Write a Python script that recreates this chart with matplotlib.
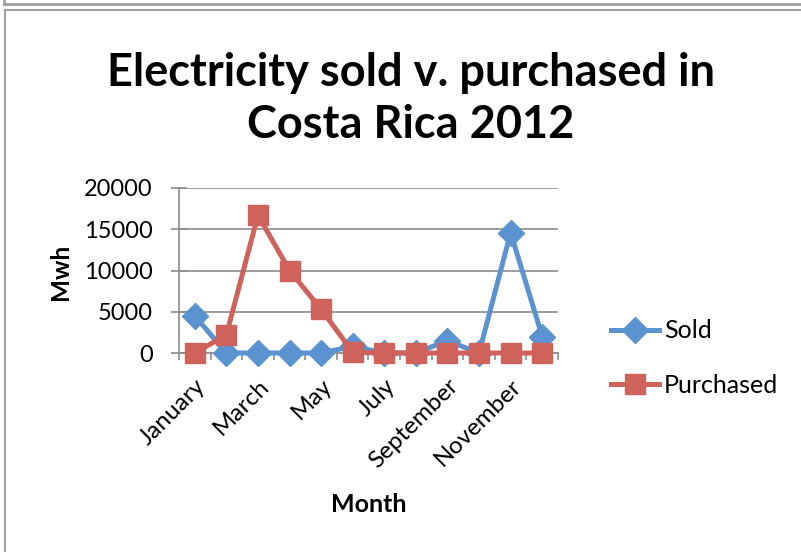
import numpy as np
import matplotlib
matplotlib.use('Agg')
import matplotlib.pyplot as plt
from matplotlib.lines import Line2D

plt.rcParams['font.family'] = ['Lato', 'DejaVu Sans']

months = ['January', 'February', 'March', 'April', 'May', 'June', 'July',
          'August', 'September', 'October', 'November', 'December']
sold = [4500, 0, 0, 0, 0, 800, 0, 0, 1500, 0, 14600, 2000]
purchased = [0, 2200, 16700, 10000, 5300, 100, 0, 0, 0, 0, 0, 0]
yticks = [0, 5000, 10000, 15000, 20000]

BLUE = '#5B93D0'
RED = '#D0625C'
GRID = '#8C8C8C'

W, H = 801, 552
fig = plt.figure(figsize=(W / 100, H / 100), dpi=100)

# chart frame (like the excel chart area)
fig.add_artist(Line2D([4 / W, 1], [1 - 4 / H, 1 - 4 / H], color='#A0A0A0', lw=2))
fig.add_artist(Line2D([4 / W, 4 / W], [1 - 4 / H, 1], color='#A0A0A0', lw=2))
fig.add_artist(Line2D([5 / W, 1], [1 - 10 / H, 1 - 10 / H], color='#A0A0A0', lw=1.5))
fig.add_artist(Line2D([5 / W, 5 / W], [0, 1 - 10 / H], color='#A0A0A0', lw=1.5))

ax = fig.add_axes([179 / W, 1 - 353 / H, (558 - 179) / W, (353 - 188) / H])

x = np.arange(len(months))
ax.plot(x, sold, color=BLUE, lw=3.6, marker='D', ms=13, clip_on=False, zorder=3, label='Sold')
ax.plot(x, purchased, color=RED, lw=3.6, marker='s', ms=14.5, clip_on=False, zorder=4, label='Purchased')

ax.set_xlim(-0.5, len(months) - 0.5)
ax.set_ylim(0, 20000)
ax.set_yticks(yticks)
ax.tick_params(axis='y', labelsize=17, length=12, direction='inout', color=GRID, width=1.2, pad=13)
ax.yaxis.grid(True, color=GRID, lw=1.2)
ax.set_axisbelow(True)

ax.set_xticks(x[::2])
ax.set_xticklabels(months[::2], rotation=45, ha='right', rotation_mode='anchor')
ax.set_xticks(np.arange(-0.5, len(months)), minor=True)
ax.tick_params(axis='x', which='major', length=0, labelsize=17.5, pad=16)
ax.tick_params(axis='x', which='minor', length=5, direction='out', color=GRID, width=1.2)

for s in ['top', 'right']:
    ax.spines[s].set_visible(False)
for s in ['left', 'bottom']:
    ax.spines[s].set_color(GRID)
    ax.spines[s].set_linewidth(1.2)

ax.set_ylabel('Mwh', fontsize=17.5, fontweight='bold')
ax.yaxis.set_label_coords(61 / W, 1 - 272 / H, transform=fig.transFigure)
ax.set_xlabel('Month', fontsize=18, fontweight='bold')
ax.xaxis.set_label_coords(369 / W, 1 - 505 / H, transform=fig.transFigure)
ax.xaxis.label.set_va('center')
ax.yaxis.label.set_va('center')

fig.text(411 / W, 1 - 99 / H, 'Electricity sold v. purchased in\nCosta Rica 2012',
         ha='center', va='center', fontsize=32.5, fontweight='bold', linespacing=1.32)

fig.legend(loc='center left', bbox_to_anchor=(588 / W, 1 - 358 / H), frameon=False,
           fontsize=18, handlelength=1.95, handletextpad=0.2, labelspacing=1.25)

fig.savefig('out.png', dpi=100)
